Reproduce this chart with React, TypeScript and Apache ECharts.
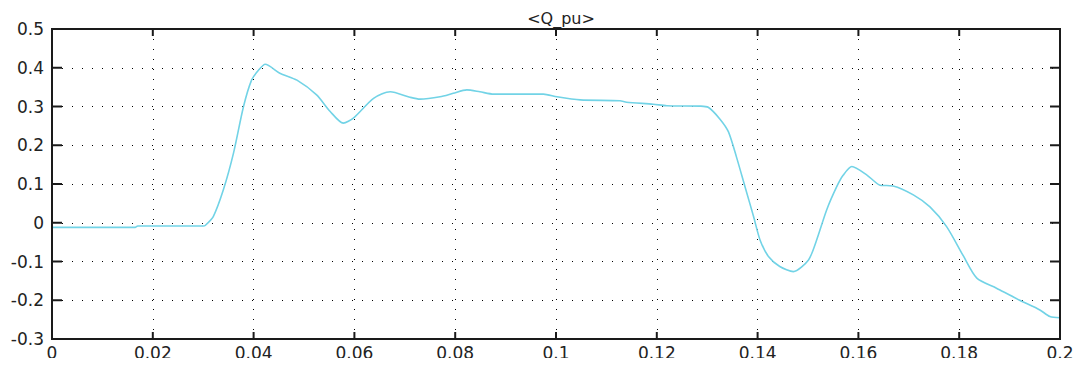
import React, { useEffect, useRef } from "react";
import * as echarts from "echarts";

// Reactive power trace <Q_pu> over time (s)
const timeS: number[] = [
  0, 0.0165, 0.017, 0.03, 0.0304, 0.032, 0.034, 0.036, 0.038, 0.0396, 0.041,
  0.0423, 0.0452, 0.0486, 0.0525, 0.0552, 0.0578, 0.0598, 0.0638, 0.0671,
  0.071, 0.073, 0.077, 0.0796, 0.0823, 0.0849, 0.0876, 0.0975, 0.1002, 0.1048,
  0.1127, 0.114, 0.1193, 0.122, 0.1286, 0.1302, 0.1325, 0.1342, 0.1358,
  0.1375, 0.1392, 0.1405, 0.1422, 0.1444, 0.1471, 0.1501, 0.1517, 0.1537,
  0.1557, 0.157, 0.1587, 0.1617, 0.1643, 0.1669, 0.1709, 0.1742, 0.1775,
  0.1808, 0.1835, 0.1874, 0.192, 0.196, 0.198, 0.2,
];
const qPu: number[] = [
  -0.012, -0.012, -0.0085, -0.0085, -0.007, 0.016, 0.085, 0.179, 0.3, 0.368,
  0.394, 0.409, 0.386, 0.368, 0.33, 0.287, 0.257, 0.27, 0.321, 0.338, 0.324,
  0.319, 0.325, 0.334, 0.343, 0.338, 0.332, 0.332, 0.325, 0.317, 0.315,
  0.311, 0.306, 0.302, 0.301, 0.298, 0.268, 0.235, 0.17, 0.093, 0.016,
  -0.045, -0.088, -0.113, -0.126, -0.096, -0.045, 0.033, 0.093, 0.123, 0.145,
  0.123, 0.097, 0.095, 0.072, 0.041, -0.01, -0.085, -0.143, -0.169, -0.2,
  -0.225, -0.242, -0.245,
];

const chartTitle = "<Q_pu>";
const xTicks: number[] = [0, 0.02, 0.04, 0.06, 0.08, 0.1, 0.12, 0.14, 0.16, 0.18, 0.2];
const yTicks: number[] = [-0.3, -0.2, -0.1, 0, 0.1, 0.2, 0.3, 0.4, 0.5];
const xStep = 0.02;
const yStep = 0.1;

const FONT = "DejaVu Sans";
const INK = "#1a1a1a";
const dotted = { color: "#000", width: 1, type: [1, 9] as number[] };
const fmt = (v: number) => String(+v.toFixed(2));

export default function App() {
  const ref = useRef<HTMLDivElement>(null);

  useEffect(() => {
    if (!ref.current) return;
    const chart = echarts.init(ref.current, null, { renderer: "svg" });
    const points = timeS.map((t, i) => [t, qPu[i]]);
    const xMin = xTicks[0];
    const xMax = xTicks[xTicks.length - 1];
    const yMin = yTicks[0];
    const yMax = yTicks[yTicks.length - 1];
    chart.setOption({
      animation: false,
      backgroundColor: "#fff",
      title: {
        text: chartTitle,
        left: 556,
        textAlign: "center",
        top: 5,
        textStyle: { fontFamily: FONT, fontSize: 16, fontWeight: "normal", color: "#222" },
      },
      grid: {
        left: 52,
        right: 22,
        top: 29,
        bottom: 27,
        containLabel: false,
        outerBoundsMode: "none",
      },
      xAxis: {
        type: "value",
        min: xMin,
        max: xMax,
        interval: xStep,
        axisLine: { show: false, onZero: false },
        axisTick: { show: false },
        axisLabel: { fontFamily: FONT, fontSize: 17, color: "#222", margin: 5, formatter: fmt },
        splitLine: { show: true, lineStyle: dotted },
      },
      yAxis: {
        type: "value",
        min: yMin,
        max: yMax,
        interval: yStep,
        axisLine: { show: false, onZero: false },
        axisTick: { show: false },
        axisLabel: { fontFamily: FONT, fontSize: 17, color: "#222", margin: 8, formatter: fmt },
        splitLine: { show: true, lineStyle: dotted },
      },
      series: [
        {
          type: "line",
          data: points,
          showSymbol: false,
          smooth: 0.25,
          lineStyle: { color: "#72d3e6", width: 1.6 },
          z: 3,
        },
      ],
    });

    // Boxed frame with inward ticks on all four sides, placed through the axis scales
    const [x0, y0] = chart.convertToPixel({ gridIndex: 0 }, [xMin, yMin]) as number[];
    const [x1, y1] = chart.convertToPixel({ gridIndex: 0 }, [xMax, yMax]) as number[];
    const stroke = { stroke: INK, lineWidth: 2 };
    const elements: any[] = [
      {
        type: "rect",
        shape: { x: x0, y: y1, width: x1 - x0, height: y0 - y1 },
        style: { fill: "none", ...stroke },
        z: 10,
      },
    ];
    xTicks.forEach((v) => {
      const px = chart.convertToPixel({ xAxisIndex: 0 }, v) as number;
      elements.push({ type: "line", shape: { x1: px, y1: y0, x2: px, y2: y0 - 7 }, style: stroke, z: 10 });
      elements.push({ type: "line", shape: { x1: px, y1: y1, x2: px, y2: y1 + 7 }, style: stroke, z: 10 });
    });
    yTicks.forEach((v) => {
      const py = chart.convertToPixel({ yAxisIndex: 0 }, v) as number;
      elements.push({ type: "line", shape: { x1: x0, y1: py, x2: x0 + 10, y2: py }, style: stroke, z: 10 });
      elements.push({ type: "line", shape: { x1: x1, y1: py, x2: x1 - 10, y2: py }, style: stroke, z: 10 });
    });
    chart.setOption({ graphic: { elements } });

    return () => chart.dispose();
  }, []);

  return <div ref={ref} style={{ width: 1082, height: 366, margin: -8 }} />;
}
